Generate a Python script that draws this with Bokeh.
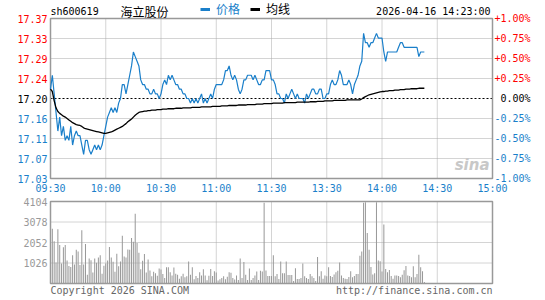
from bokeh.plotting import figure
from bokeh.layouts import column
from bokeh.models import Range1d, Label, Grid, Legend, LegendItem
from bokeh.embed import file_html
from bokeh.resources import INLINE

# ---------------- data ----------------
stock_code = "sh600619"
stock_name = "海立股份"
timestamp = "2026-04-16 14:23:00"
legend_price = "价格"
legend_avg = "均线"
copyright_text = "Copyright 2026 SINA.COM"
site_text = "http://finance.sina.com.cn"
prev_close = 17.20
pct_ticks = [1.00, 0.75, 0.50, 0.25, 0.00, -0.25, -0.50, -0.75, -1.00]
time_labels = ["09:30", "10:00", "10:30", "11:00", "11:30", "13:30", "14:00", "14:30", "15:00"]
session_minutes = 240
vol_ticks = [4104, 3078, 2052, 1026]
vol_max = 4104

price = [
    17.22, 17.25, 17.21, 17.17, 17.13, 17.16, 17.12, 17.14, 17.11, 17.12,
    17.11, 17.14, 17.10, 17.12, 17.13, 17.12, 17.12, 17.10, 17.08, 17.11,
    17.11, 17.09, 17.08, 17.09, 17.10, 17.09, 17.10, 17.09, 17.10, 17.12,
    17.14, 17.16, 17.17, 17.18, 17.17, 17.18, 17.17, 17.19, 17.20, 17.23,
    17.23, 17.21, 17.23, 17.25, 17.27, 17.30, 17.29, 17.28, 17.27, 17.24,
    17.23, 17.23, 17.22, 17.22, 17.21, 17.21, 17.22, 17.21, 17.21, 17.20,
    17.21, 17.23, 17.24, 17.23, 17.25, 17.24, 17.25, 17.24, 17.23, 17.23,
    17.22, 17.22, 17.21, 17.21, 17.20, 17.20, 17.19, 17.20, 17.19, 17.20,
    17.19, 17.20, 17.21, 17.19, 17.20, 17.19, 17.20, 17.21, 17.20, 17.22,
    17.23, 17.23, 17.23, 17.23, 17.24, 17.26, 17.26, 17.27, 17.25, 17.24,
    17.25, 17.24, 17.22, 17.21, 17.22, 17.24, 17.24, 17.25, 17.25, 17.25,
    17.24, 17.25, 17.24, 17.23, 17.23, 17.24, 17.24, 17.26, 17.26, 17.26,
    17.24, 17.24, 17.23, 17.21, 17.21, 17.20, 17.20, 17.19, 17.21, 17.20,
    17.21, 17.22, 17.21, 17.20, 17.21, 17.20, 17.20, 17.20, 17.19, 17.21,
    17.20, 17.21, 17.22, 17.22, 17.21, 17.21, 17.22, 17.22, 17.20, 17.20,
    17.21, 17.21, 17.23, 17.24, 17.23, 17.23, 17.24, 17.26, 17.25, 17.23,
    17.23, 17.23, 17.24, 17.23, 17.21, 17.23, 17.24, 17.25, 17.27, 17.28,
    17.34, 17.32, 17.32, 17.31, 17.32, 17.32, 17.33, 17.34, 17.33, 17.33,
    17.33, 17.30, 17.28, 17.30, 17.30, 17.30, 17.30, 17.30, 17.30, 17.31,
    17.32, 17.32, 17.31, 17.31, 17.31, 17.31, 17.31, 17.31, 17.31, 17.31,
    17.29, 17.30, 17.30, 17.30,
]

avg_price = [
    17.220, 17.215, 17.195, 17.180, 17.172, 17.168, 17.165, 17.162, 17.160, 17.157,
    17.154, 17.151, 17.148, 17.146, 17.144, 17.143, 17.142, 17.140, 17.137, 17.135,
    17.134, 17.133, 17.132, 17.131, 17.130, 17.129, 17.128, 17.127, 17.126, 17.125,
    17.125, 17.126, 17.127, 17.128, 17.130, 17.132, 17.134, 17.136, 17.138, 17.140,
    17.143, 17.146, 17.150, 17.153, 17.156, 17.160, 17.164, 17.167, 17.170, 17.171,
    17.172, 17.173, 17.173, 17.174, 17.174, 17.175, 17.175, 17.175, 17.176, 17.176,
    17.176, 17.177, 17.177, 17.177, 17.178, 17.178, 17.178, 17.178, 17.179, 17.179,
    17.179, 17.179, 17.180, 17.180, 17.180, 17.180, 17.180, 17.181, 17.181, 17.181,
    17.181, 17.181, 17.182, 17.182, 17.182, 17.182, 17.182, 17.182, 17.183, 17.183,
    17.183, 17.183, 17.183, 17.184, 17.184, 17.184, 17.184, 17.185, 17.185, 17.185,
    17.185, 17.185, 17.186, 17.186, 17.186, 17.186, 17.186, 17.187, 17.187, 17.187,
    17.187, 17.187, 17.188, 17.188, 17.188, 17.188, 17.189, 17.189, 17.189, 17.189,
    17.189, 17.190, 17.190, 17.190, 17.190, 17.190, 17.190, 17.191, 17.191, 17.191,
    17.191, 17.191, 17.191, 17.191, 17.192, 17.192, 17.192, 17.192, 17.192, 17.192,
    17.192, 17.193, 17.193, 17.193, 17.193, 17.194, 17.194, 17.194, 17.194, 17.195,
    17.195, 17.195, 17.195, 17.195, 17.196, 17.196, 17.196, 17.196, 17.196, 17.196,
    17.196, 17.197, 17.197, 17.197, 17.197, 17.197, 17.197, 17.197, 17.197, 17.199,
    17.202, 17.204, 17.206, 17.208, 17.209, 17.210, 17.211, 17.212, 17.213, 17.214,
    17.215, 17.215, 17.216, 17.216, 17.217, 17.217, 17.217, 17.218, 17.218, 17.218,
    17.219, 17.219, 17.219, 17.220, 17.220, 17.220, 17.221, 17.221, 17.221, 17.221,
    17.222, 17.222, 17.222, 17.222,
]

volume = [
    957, 2741, 2109, 1054, 2709, 1930, 1006, 1817, 1930, 1152,
    876, 827, 1411, 957, 1687, 1606, 925, 2660,
    957, 1979, 438, 1249, 1168, 551, 1249, 1038, 1298, 1411, 487, 892, 1006, 1152, 1833,
    1298, 1087, 584, 1492, 860, 1103, 2384,
    1346, 1298, 1703, 1687, 2271, 2092, 3487,
    2028, 1541, 714, 1135, 1476, 551, 1200, 649, 357, 584,
    519, 389, 746, 697, 470, 276, 811, 811, 568, 406,
    795, 487, 438, 243, 357, 487, 308, 357, 1103, 438,
    811, 211, 373, 276, 568, 406, 714, 406, 162, 389,
    730, 373, 616, 551, 146, 211, 276, 357, 211, 341,
    568, 535, 276, 195, 406, 178, 1249, 276, 1071, 438,
    178, 746, 178, 276, 406, 600, 178, 633, 600, 4039,
    649, 373, 373,
    373, 1411, 357, 470, 227, 1103, 519, 519, 1103, 422,
    422, 422, 130, 762, 227, 227, 276, 1006, 357, 276,
    227, 470, 357, 276, 130, 1330, 357, 616, 243, 406,
    357, 811, 373, 324, 454, 568, 633, 1054, 406, 276,
    243, 227, 324, 616, 308, 373, 470, 470, 1395, 1606,
    4039, 4071, 2530, 1687, 827, 454, 519, 4071, 1152, 1119,
    600, 2952, 730, 568, 681, 373, 243, 406, 406, 373,
    308, 438, 665, 876, 406, 373, 308, 860, 308, 470,
    1444, 811, 616, 81,
]

# ---------------- layout & styles ----------------
W = 545
TOP_H, VOL_H = 197, 103
PAD_L, PAD_R = 50, 53            # pixel margins around the plotting boxes
P_TOP, P_BOT = 18, 19            # price box margins
V_TOP, V_BOT = 4, 17             # volume box margins
BLUE = "#1a7fca"
RED = "#ff0000"
GRID = "#a8a8a8"
FRAME = "#999999"
MONO = "DejaVu Sans Mono"
CJK = "Noto Sans CJK SC"

minutes = list(range(len(price)))
levels = [prev_close * (1 + pct / 100.0) for pct in pct_ticks]
lo, hi = min(levels), max(levels)
tick_minutes = [i * session_minutes // (len(time_labels) - 1) for i in range(len(time_labels))]
inner_minutes = tick_minutes[1:-1]
inner_levels = [l for l, t in zip(levels, pct_ticks) if abs(t) not in (0.0, 1.0)]

box_w = W - PAD_L - PAD_R
xs = session_minutes / box_w
x_range_px = (-PAD_L * xs, session_minutes + PAD_R * xs)


def make_fig(height, y0, y1, top, bot):
    ys = (y1 - y0) / (height - top - bot)
    f = figure(width=W, height=height,
               x_range=Range1d(*x_range_px),
               y_range=Range1d(y0 - bot * ys, y1 + top * ys),
               x_axis_location=None, y_axis_location=None, toolbar_location=None,
               output_backend="svg", min_border=0, min_border_left=0, min_border_right=0,
               min_border_top=0, min_border_bottom=0)
    f.center = [c for c in f.center if not isinstance(c, Grid)]
    f.outline_line_color = None
    f.background_fill_color = "white"
    f.border_fill_color = "white"
    return f


def lab(fig, **kw):
    kw.setdefault("text_font", MONO)
    kw.setdefault("text_font_size", "10px")
    kw.setdefault("text_baseline", "middle")
    fig.add_layout(Label(**kw))


# ---------------- price panel ----------------
p = make_fig(TOP_H, lo, hi, P_TOP, P_BOT)
p.segment(x0=inner_minutes, y0=[lo] * len(inner_minutes), x1=inner_minutes, y1=[hi] * len(inner_minutes),
          line_color=GRID, line_dash="1 1", line_width=1)
p.segment(x0=[0] * len(inner_levels), y0=inner_levels, x1=[session_minutes] * len(inner_levels), y1=inner_levels,
          line_color=GRID, line_dash="1 1", line_width=1)
p.segment(x0=[0], y0=[prev_close], x1=[session_minutes], y1=[prev_close],
          line_color="black", line_dash="2 2", line_width=1)
p.quad(left=[0], right=[session_minutes], bottom=[lo], top=[hi], fill_color=None,
       line_color=FRAME, line_width=1.5)

p.line(minutes, price, line_color=BLUE, line_width=1.2)
p.line(minutes, avg_price, line_color="black", line_width=1.3)

# legend swatch renderers: a single point each, so they draw nothing in the plot itself
leg_blue = p.line(minutes[:1], price[:1], line_color=BLUE, line_width=3)
leg_black = p.line(minutes[:1], avg_price[:1], line_color="black", line_width=3)
for rend, txt, col, xloc in [(leg_blue, legend_price, BLUE, 200), (leg_black, legend_avg, "black", 250)]:
    lg = Legend(items=[LegendItem(label=txt, renderers=[rend])], location=(xloc, TOP_H - 17),
                orientation="horizontal", padding=0, margin=0, glyph_width=10, glyph_height=12,
                label_height=12, label_standoff=6, label_text_font_size="12px",
                label_text_font=CJK, label_text_color=col, background_fill_alpha=0,
                border_line_alpha=0)
    p.add_layout(lg)

for pct, lvl in zip(pct_ticks, levels):
    col = RED if pct > 0 else ("black" if pct == 0 else BLUE)
    lab(p, x=0, y=lvl, text=f"{lvl:.2f}", x_offset=-3, text_align="right", text_color=col)
    ptxt = "0.00%" if pct == 0 else f"{pct:+.2f}%"
    lab(p, x=session_minutes, y=lvl, text=ptxt, x_offset=38, text_align="right", text_color=col)

for tm, tl in zip(tick_minutes, time_labels):
    lab(p, x=tm, y=lo, text=tl, y_offset=-10, text_align="center", text_color=BLUE)

lab(p, x=0, y=hi, text=stock_code, y_offset=7, text_align="left", text_color="black")
lab(p, x=0, y=hi, text=stock_name, x_offset=70, y_offset=7, text_align="left",
    text_color="black", text_font=CJK, text_font_size="12px")
lab(p, x=session_minutes, y=hi, text=timestamp, x_offset=-2, y_offset=7, text_align="right",
    text_color="black")
lab(p, x=session_minutes, y=levels[-2], text="sina", x_offset=-3, y_offset=-6, text_align="right",
    text_color="#c8c8c8", text_font="DejaVu Sans", text_font_size="15px", text_font_style="bold italic")

# ---------------- volume panel ----------------
v = make_fig(VOL_H, 0, vol_max, V_TOP, V_BOT)
grid_vols = vol_ticks[1:]
v.segment(x0=inner_minutes, y0=[0] * len(inner_minutes), x1=inner_minutes, y1=[vol_max] * len(inner_minutes),
          line_color=GRID, line_dash="1 1", line_width=1)
v.segment(x0=[0] * len(grid_vols), y0=grid_vols, x1=[session_minutes] * len(grid_vols), y1=grid_vols,
          line_color=GRID, line_dash="1 1", line_width=1)
v.vbar(x=minutes, top=volume, width=0.55, fill_color="#999999", line_color=None)
v.quad(left=[0], right=[session_minutes], bottom=[0], top=[vol_max], fill_color=None,
       line_color=FRAME, line_width=1.5)

for t in vol_ticks:
    lab(v, x=0, y=t, text=str(t), x_offset=-3, text_align="right", text_color="#999999")
lab(v, x=0, y=0, text=copyright_text, y_offset=-7, text_align="left", text_color="#666666")
lab(v, x=session_minutes, y=0, text=site_text, y_offset=-7, text_align="right", text_color="#666666")

layout = column(p, v, spacing=0)
open("out.html", "w").write(file_html(layout, INLINE))
